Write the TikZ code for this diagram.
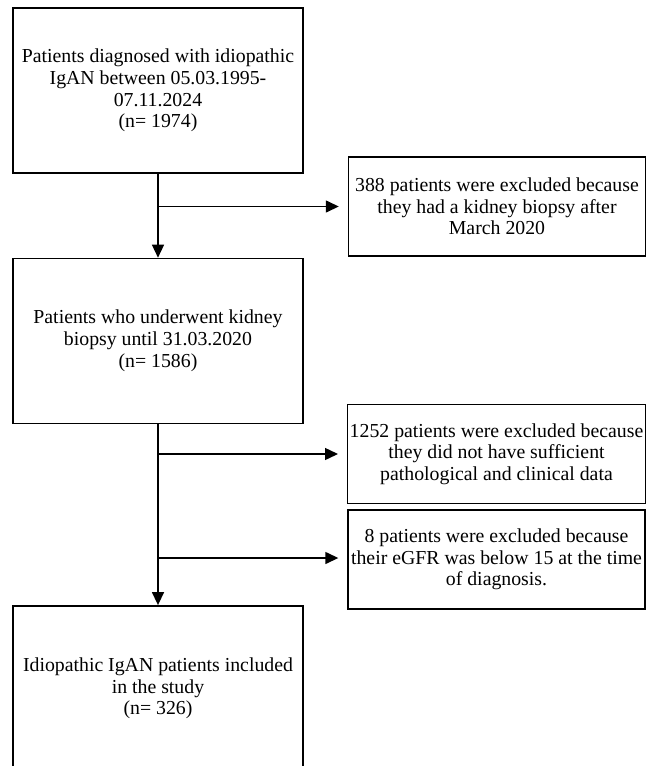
\documentclass[tikz,border=0pt]{standalone}
\usepackage{fontspec}
\setmainfont{Liberation Serif}
\usetikzlibrary{arrows.meta,positioning}

\begin{document}
\begin{tikzpicture}[
x=1pt, y=1pt,
node distance=84pt,
mainbox/.style={draw, line width=1.4pt, minimum width=290pt, minimum height=165pt, align=center, font=\fontsize{19.8}{21.7}\selectfont},
exbox/.style={draw, line width=1.4pt, minimum width=297pt, minimum height=99pt, align=center, inner sep=2pt, font=\fontsize{19.8}{21.7}\selectfont},
arr/.style={-{Triangle[length=13pt,width=12pt]}, line width=1.4pt},
side/.style={arr, shorten >=9pt}
]
\useasboundingbox (0,0) rectangle (646,-766);
\node[mainbox] (diag) at (158,-90.5) {Patients diagnosed with idiopathic\\IgAN between 05.03.1995-\\07.11.2024\\(n= 1974)};
\node[mainbox, below=of diag] (biopsy) {Patients who underwent kidney\\biopsy until 31.03.2020\\(n= 1586)};
\node[mainbox, below=181pt of biopsy] (incl) {Idiopathic IgAN patients included\\in the study\\(n= 326)};

\node[exbox] (late) at (497,-206.5) {388 patients were excluded because\\they had a kidney biopsy after\\March 2020};
\node[exbox] (nodata) at (496.5,-454) {1252 patients were excluded because\\they did not have sufficient\\pathological and clinical data};
\node[exbox] (egfr) at (496.5,-559.5) {8 patients were excluded because\\their eGFR was below 15 at the time\\of diagnosis.};

\draw[arr] (diag) -- (biopsy);
\draw[arr] (biopsy) -- (incl);
\draw[side] (diag.south |- late.west) -- (late.west);
\draw[side] (biopsy.south |- nodata.west) -- (nodata.west);
\draw[side] (biopsy.south |- 0,-558) -- (egfr.west |- 0,-558);
\end{tikzpicture}
\end{document}
